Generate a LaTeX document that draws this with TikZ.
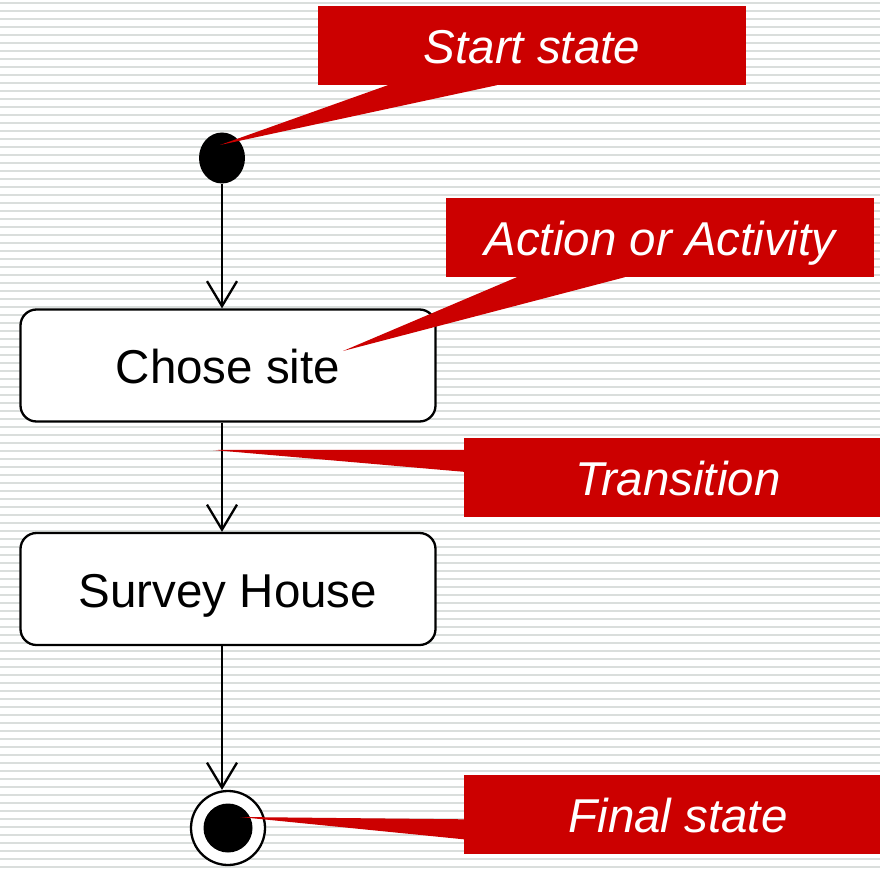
\documentclass[tikz,border=0pt]{standalone}
\usepackage{fontspec}
\setmainfont{Liberation Sans}
\usetikzlibrary{arrows.meta,shapes.geometric}

\definecolor{calloutred}{HTML}{CC0000}
\definecolor{rulegray}{HTML}{DADEDC}

\tikzset{
    activity/.style={draw, line width=2.3pt, fill=white, rounded corners=16pt,
        minimum width=415pt, minimum height=112pt, text height=36pt, text depth=0pt,
        font=\fontsize{47.5}{57}\selectfont},
    callout/.style={fill=calloutred, text=white, minimum width=428pt, minimum height=79pt,
        inner sep=0pt, text height=36pt, text depth=0pt,
        font=\fontsize{47.5}{57}\selectfont\itshape},
    flow/.style={line width=2.3pt, -{Straight Barb[length=25pt,width=30pt,line width=2.3pt]}}
}

\begin{document}
\begin{tikzpicture}[x=1pt,y=-1pt]
    \clip (0,0) rectangle (880,869);
    \fill[white] (0,0) rectangle (880,869);
    \foreach \y in {3,11,...,867}
        \fill[rulegray] (0,\y-0.7) rectangle (880,\y+0.7);

    % states
    \node[ellipse, fill=black, minimum width=46pt, minimum height=51pt, inner sep=0pt] (start) at (222,158) {};
    \node[activity] (chose) at (228,365.5) {Chose site};
    \node[activity] (survey) at (228,589) {Survey House};
    \node[circle, draw, line width=2.3pt, fill=white, minimum size=74pt, inner sep=0pt] (final) at (228,828) {};
    \fill (final.center) circle (24.5);

    \draw[flow] (start) -- (start |- chose.north);
    \draw[flow] (chose.south -| start) -- (start |- survey.north);
    \draw[flow] (survey.south -| start) -- (start |- final.north);

    % callouts
    \node[callout] (startlbl) at (532,45.5) {Start state};
    \node[callout] (actlbl) at (660,237.5) {Action or Activity};
    \node[callout] (translbl) at (678,477.5) {Transition};
    \node[callout] (finallbl) at (678,814) {Final state};

    \coordinate (starttip) at (220,145);
    \coordinate (acttip) at (343,351);
    \coordinate (transtip) at (213,450);
    \coordinate (finaltip) at (240,817);

    \fill[calloutred] ([xshift=70pt]startlbl.south west) -- ([xshift=179pt]startlbl.south west) -- (starttip) -- cycle;
    \fill[calloutred] ([xshift=71pt]actlbl.south west) -- ([xshift=179pt]actlbl.south west) -- (acttip) -- cycle;
    \fill[calloutred] ([yshift=-12pt]translbl.north west) -- ([yshift=-34pt]translbl.north west) -- (transtip) -- cycle;
    \fill[calloutred] ([yshift=-45pt]finallbl.north west) -- ([yshift=-65pt]finallbl.north west) -- (finaltip) -- cycle;
\end{tikzpicture}
\end{document}
